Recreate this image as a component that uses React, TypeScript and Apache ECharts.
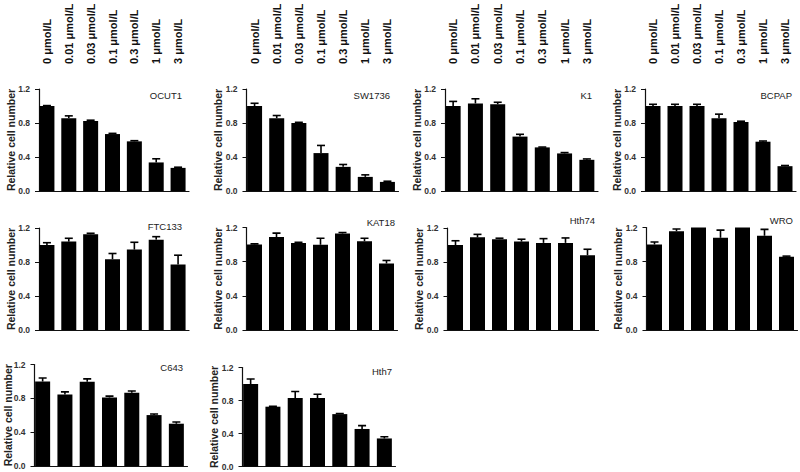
import React, { useEffect, useRef } from 'react';
import * as echarts from 'echarts';

// ---------- data ----------
const concentrations = ['0 μmol/L', '0.01 μmol/L', '0.03 μmol/L', '0.1 μmol/L', '0.3 μmol/L', '1 μmol/L', '3 μmol/L'];
const cellLines = ['OCUT1', 'SW1736', 'K1', 'BCPAP', 'FTC133', 'KAT18', 'Hth74', 'WRO', 'C643', 'Hth7'];

const ocut1 = [1.0, 0.857, 0.825, 0.67, 0.584, 0.336, 0.272];
const ocut1Err = [0.005, 0.027, 0.008, 0.008, 0.008, 0.043, 0.008];
const sw1736 = [1.0, 0.857, 0.8, 0.446, 0.284, 0.166, 0.107];
const sw1736Err = [0.032, 0.031, 0.008, 0.09, 0.028, 0.024, 0.008];
const k1 = [1.0, 1.03, 1.02, 0.64, 0.513, 0.442, 0.367];
const k1Err = [0.054, 0.055, 0.024, 0.027, 0.004, 0.01, 0.01];
const bcpap = [1.0, 1.0, 1.0, 0.857, 0.813, 0.58, 0.292];
const bcpapErr = [0.02, 0.02, 0.02, 0.047, 0.008, 0.008, 0.008];
const ftc133 = [1.0, 1.04, 1.126, 0.833, 0.946, 1.063, 0.77];
const ftc133Err = [0.027, 0.039, 0.012, 0.067, 0.086, 0.035, 0.11];
const kat18 = [1.0, 1.09, 1.02, 0.997, 1.13, 1.04, 0.779];
const kat18Err = [0.008, 0.044, 0.008, 0.078, 0.012, 0.035, 0.035];
const hth74 = [1.0, 1.09, 1.068, 1.04, 1.025, 1.025, 0.88];
const hth74Err = [0.05, 0.035, 0.012, 0.028, 0.05, 0.058, 0.07];
const wro = [1.0, 1.157, 1.22, 1.079, 1.23, 1.103, 0.857];
const wroErr = [0.03, 0.025, 0.03, 0.09, 0.03, 0.075, 0.008];
const c643 = [1.0, 0.846, 0.995, 0.81, 0.866, 0.602, 0.5];
const c643Err = [0.04, 0.03, 0.035, 0.016, 0.02, 0.012, 0.02];
const hth7 = [1.0, 0.725, 0.83, 0.83, 0.635, 0.455, 0.34];
const hth7Err = [0.06, 0.005, 0.08, 0.045, 0.008, 0.04, 0.02];

const values = [ocut1, sw1736, k1, bcpap, ftc133, kat18, hth74, wro, c643, hth7];
const errors = [ocut1Err, sw1736Err, k1Err, bcpapErr, ftc133Err, kat18Err, hth74Err, wroErr, c643Err, hth7Err];

const yMin = 0;
const yMax = 1.2;
const yInterval = 0.4;
const yName = 'Relative cell number';

// ---------- layout (positions only) ----------
// [axisX, top, width, height, titleRight, titleY, nameGap]
const layout: number[][] = [
  [39, 89, 150, 102, 182, 95, 23],
  [246.5, 89, 152, 102, 390, 95, 23],
  [445, 89, 153, 102, 592, 95, 23],
  [645, 89, 151, 102, 792, 95, 23],
  [39, 228, 150, 102, 182, 226, 23],
  [246.5, 227.5, 151, 102.5, 395, 222, 23],
  [447.5, 228, 151, 102, 595, 220, 23],
  [646.5, 227.5, 151, 102.5, 793, 220, 23],
  [34.5, 364.5, 153, 101.5, 183, 367, 21],
  [242.5, 367.5, 153, 99, 392, 371, 23],
];
const topLabelPanels = [0, 1, 2, 3];
const SHIFT = 3;
const FONT = '"Liberation Sans", Arial, Helvetica, sans-serif';

export default function App() {
  const ref = useRef<HTMLDivElement>(null);

  useEffect(() => {
    if (!ref.current) return;
    const chart = echarts.init(ref.current, null, { renderer: 'svg' });

    const grids: any[] = [];
    const xAxes: any[] = [];
    const yAxes: any[] = [];
    const series: any[] = [];
    const graphics: any[] = [];

    cellLines.forEach((name, i) => {
      const [ax, top, w, h, tx, ty, ng] = layout[i];
      grids.push({ left: ax - SHIFT, top, width: w + SHIFT, height: h, containLabel: false, outerBoundsMode: 'none' });
      xAxes.push({
        gridIndex: i,
        type: 'category',
        data: concentrations,
        position: 'bottom',
        boundaryGap: true,
        axisLine: { lineStyle: { color: '#111', width: 1.2 } },
        axisTick: { show: false },
        axisLabel: { show: false },
        splitLine: { show: false },
      });
      yAxes.push({
        gridIndex: i,
        type: 'value',
        min: yMin,
        max: yMax,
        interval: yInterval,
        offset: -SHIFT,
        name: yName,
        nameLocation: 'middle',
        nameRotate: 90,
        nameGap: ng,
        nameMoveOverlap: false,
        nameTextStyle: { fontFamily: FONT, fontSize: 10.5, fontWeight: 'bold', color: '#222' },
        axisLine: { show: true, lineStyle: { color: '#111', width: 1.2 } },
        axisTick: { show: true, length: 4, lineStyle: { color: '#111' } },
        axisLabel: {
          fontFamily: FONT,
          fontSize: 8.5,
          fontWeight: 'bold',
          color: '#333',
          margin: 9,
          formatter: (v: number) => v.toFixed(1),
        },
        splitLine: { show: false },
      });
      series.push({
        type: 'bar',
        xAxisIndex: i,
        yAxisIndex: i,
        data: values[i],
        barWidth: 15,
        itemStyle: { color: '#000' },
        clip: true,
        z: 2,
      });
      series.push({
        type: 'custom',
        xAxisIndex: i,
        yAxisIndex: i,
        clip: true,
        z: 3,
        encode: { x: 0, y: 1 },
        data: values[i].map((v, k) => [k, v, errors[i][k]]),
        renderItem: (params: any, api: any) => {
          const idx = api.value(0);
          const v = api.value(1);
          const e = api.value(2);
          const base = api.coord([idx, v]);
          const tip = api.coord([idx, v + e]);
          const hw = 4;
          return {
            type: 'group',
            children: [
              { type: 'line', shape: { x1: base[0], y1: base[1], x2: tip[0], y2: tip[1] }, style: { stroke: '#000', lineWidth: 1.6 } },
              { type: 'line', shape: { x1: tip[0] - hw, y1: tip[1], x2: tip[0] + hw, y2: tip[1] }, style: { stroke: '#000', lineWidth: 1.6 } },
            ],
          };
        },
      });
      graphics.push({
        type: 'text',
        x: tx,
        y: ty,
        style: {
          text: name,
          textAlign: 'right',
          textVerticalAlign: 'middle',
          fontFamily: FONT,
          fontSize: 9.5,
          fill: '#222',
        },
      });
    });

    // concentration labels on top of the first row
    topLabelPanels.forEach((gi) => {
      xAxes.push({
        gridIndex: gi,
        type: 'category',
        data: concentrations,
        position: 'top',
        boundaryGap: true,
        axisLine: { show: false },
        axisTick: { show: false },
        axisLabel: {
          show: true,
          rotate: -90,
          align: 'left',
          verticalAlign: 'middle',
          interval: 0,
          margin: 25,
          hideOverlap: false,
          fontFamily: FONT,
          fontSize: 11,
          fontWeight: 'bold',
          color: '#111',
        },
        splitLine: { show: false },
      });
    });

    chart.setOption({
      animation: false,
      backgroundColor: '#fff',
      grid: grids,
      xAxis: xAxes,
      yAxis: yAxes,
      series,
      graphic: graphics,
    });

    return () => chart.dispose();
  }, []);

  return (
    <div
      ref={ref}
      style={{ position: 'fixed', left: 0, top: 0, width: 800, height: 472, background: '#fff' }}
    />
  );
}
